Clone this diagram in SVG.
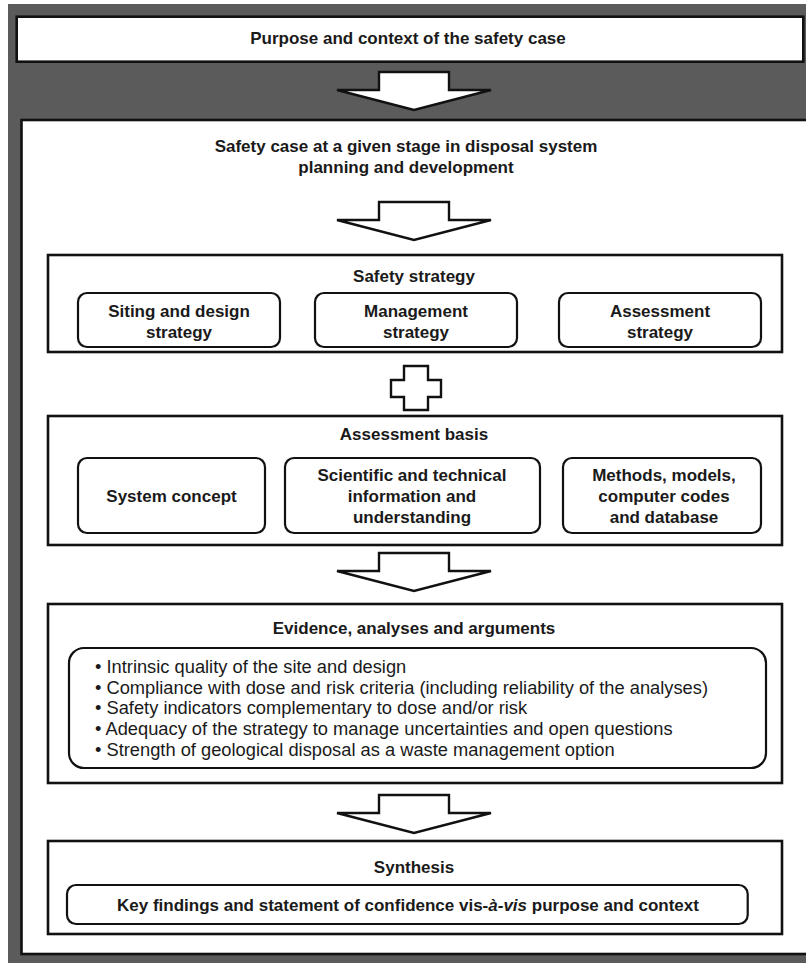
<svg xmlns="http://www.w3.org/2000/svg" width="806" height="963" viewBox="0 0 806 963">
<style>
  .box { fill: #ffffff; stroke: #111111; stroke-width: 2.6; }
  .sub { fill: #ffffff; stroke: #111111; stroke-width: 2.2; }
  .arrow { fill: #ffffff; stroke: #111111; stroke-width: 2.4; stroke-linejoin: miter; }
  .t { font-family: "Liberation Sans", Arial, sans-serif; font-weight: bold; font-size: 17px; fill: #1a1a1a; text-anchor: middle; }
  .b { font-family: "Liberation Sans", Arial, sans-serif; font-size: 18.3px; fill: #1a1a1a; }
</style>
<rect x="0" y="0" width="806" height="963" fill="#ffffff"/>
<rect x="8" y="4" width="798" height="959" fill="#5b5b5b"/>

<g id="purpose">
  <rect class="box" x="16.7" y="16.7" width="786.6" height="45"/>
  <text class="t" x="408" y="44">Purpose and context of the safety case</text>
</g>

<g id="safety-case">
  <rect class="box" x="21.5" y="120" width="800" height="834"/>
  <text class="t" x="406" y="152" font-size="16.4">Safety case at a given stage in disposal system</text>
  <text class="t" x="406" y="173" font-size="16.4">planning and development</text>
</g>

<g id="safety-strategy">
  <rect class="box" x="48" y="255" width="734" height="97"/>
  <text class="t" x="414" y="282">Safety strategy</text>
  <g id="siting">
    <rect class="sub" x="78" y="293" width="202" height="54" rx="9"/>
    <text class="t" x="179" y="317">Siting and design</text>
    <text class="t" x="179" y="338">strategy</text>
  </g>
  <g id="management">
    <rect class="sub" x="315" y="293" width="202" height="54" rx="9"/>
    <text class="t" x="416" y="317">Management</text>
    <text class="t" x="416" y="338">strategy</text>
  </g>
  <g id="assessment-strategy">
    <rect class="sub" x="559" y="293" width="202" height="54" rx="9"/>
    <text class="t" x="660" y="317">Assessment</text>
    <text class="t" x="660" y="338">strategy</text>
  </g>
</g>

<g id="assessment-basis">
  <rect class="box" x="48" y="416" width="734" height="129"/>
  <text class="t" x="414" y="440">Assessment basis</text>
  <g id="system-concept">
    <rect class="sub" x="78" y="458" width="187" height="75" rx="9"/>
    <text class="t" x="171.5" y="502">System concept</text>
  </g>
  <g id="scientific">
    <rect class="sub" x="285" y="458" width="255" height="75" rx="9"/>
    <text class="t" x="412" y="481">Scientific and technical</text>
    <text class="t" x="412" y="502">information and</text>
    <text class="t" x="412" y="523">understanding</text>
  </g>
  <g id="methods">
    <rect class="sub" x="563" y="458" width="198" height="75" rx="9"/>
    <text class="t" x="664" y="481">Methods, models,</text>
    <text class="t" x="664" y="502">computer codes</text>
    <text class="t" x="664" y="523">and database</text>
  </g>
</g>

<g id="evidence">
  <rect class="box" x="48" y="604" width="734" height="179"/>
  <text class="t" x="414" y="634">Evidence, analyses and arguments</text>
  <rect class="sub" x="69" y="648" width="697" height="120" rx="15"/>
  <text class="b" x="95" y="673">• Intrinsic quality of the site and design</text>
  <text class="b" x="95" y="694">• Compliance with dose and risk criteria (including reliability of the analyses)</text>
  <text class="b" x="95" y="714">• Safety indicators complementary to dose and/or risk</text>
  <text class="b" x="95" y="735">• Adequacy of the strategy to manage uncertainties and open questions</text>
  <text class="b" x="95" y="756">• Strength of geological disposal as a waste management option</text>
</g>

<g id="synthesis">
  <rect class="box" x="48" y="841" width="734" height="93"/>
  <text class="t" x="414" y="873">Synthesis</text>
  <rect class="sub" x="67" y="885" width="680.7" height="39" rx="9"/>
  <text class="t" x="408" y="911" font-size="17.4">Key findings and statement of confidence vis-<tspan font-style="italic">à-vis</tspan> purpose and context</text>
</g>

<g id="connectors">
  <path class="arrow" d="M379 72 L449 72 L449 90 L491 90 L414 110 L337 90 L379 90 Z"/>
  <path class="arrow" d="M379 202 L449 202 L449 220 L491 220 L414 240 L337 220 L379 220 Z"/>
  <path class="arrow" d="M404 366 L428 366 L428 380 L441 380 L441 397 L428 397 L428 410 L404 410 L404 397 L391 397 L391 380 L404 380 Z"/>
  <path class="arrow" d="M379 553 L449 553 L449 571 L491 571 L414 591 L337 571 L379 571 Z"/>
  <path class="arrow" d="M379 795 L449 795 L449 813 L491 813 L414 833 L337 813 L379 813 Z"/>
</g>
</svg>
